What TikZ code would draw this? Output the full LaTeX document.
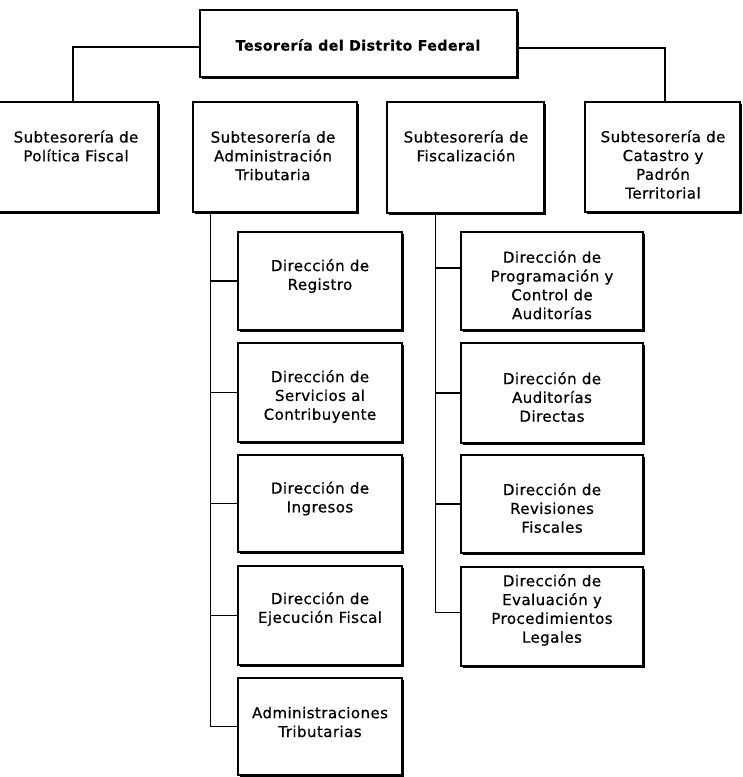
\documentclass[tikz,border=0pt]{standalone}
\usepackage{fontspec}
\setmainfont{DejaVu Sans}[LetterSpace=3, FakeBold=0.6]
\usetikzlibrary{shadows}
\begin{document}
\begin{tikzpicture}[x=1pt,y=-1pt,
  box/.style={draw=black, line width=1.5pt, fill=white, rectangle, inner sep=0pt,
    drop shadow={shadow xshift=1.7pt, shadow yshift=-1.7pt, fill=black, opacity=1}},
  lbl/.style={align=center, inner sep=0pt, font=\fontsize{15}{18.8}\selectfont},
  conn/.style={draw=black, line width=1.1pt}]
\useasboundingbox (0,0) rectangle (743,777);
\clip (0,0) rectangle (743,777);
% top
\node[box, minimum width=317pt, minimum height=67pt] (top) at (358.5,43.5) {};
\node[lbl, font=\fontsize{14.2}{18.8}\selectfont\bfseries] (top-t) at (358,45) {Tesorería del Distrito Federal};
% level 1
\node[box, minimum width=170pt, minimum height=110pt] (pol) at (73,157) {};
\node[lbl] (pol-t) at (76,146) {Subtesorería de\\Política Fiscal};
\node[box, minimum width=164pt, minimum height=110pt] (adm) at (275,157) {};
\node[lbl] (adm-t) at (273,155.5) {Subtesorería de\\Administración\\Tributaria};
\node[box, minimum width=157pt, minimum height=111pt] (fis) at (465.5,157.5) {};
\node[lbl] (fis-t) at (466,146) {Subtesorería de\\Fiscalización};
\node[box, minimum width=155pt, minimum height=110pt] (cat) at (662.5,157) {};
\node[lbl] (cat-t) at (663,164.5) {Subtesorería de\\Catastro y\\Padrón\\Territorial};
% admin children
\node[box, minimum width=164pt, minimum height=98pt] (a1) at (320,281) {};
\node[lbl] (a1-t) at (320,276) {Dirección de\\Registro};
\node[box, minimum width=164pt, minimum height=99pt] (a2) at (320,392.5) {};
\node[lbl] (a2-t) at (320,396.5) {Dirección de\\Servicios al\\Contribuyente};
\node[box, minimum width=164pt, minimum height=97pt] (a3) at (320,503.5) {};
\node[lbl] (a3-t) at (320,498.5) {Dirección de\\Ingresos};
\node[box, minimum width=164pt, minimum height=99pt] (a4) at (320,615.5) {};
\node[lbl] (a4-t) at (320,609) {Dirección de\\Ejecución Fiscal};
\node[box, minimum width=164pt, minimum height=97pt] (a5) at (320,726.5) {};
\node[lbl] (a5-t) at (320,722) {Administraciones\\Tributarias};
% fiscal children
\node[box, minimum width=182pt, minimum height=98pt] (f1) at (552,281) {};
\node[lbl] (f1-t) at (552,285) {Dirección de\\Programación y\\Control de\\Auditorías};
\node[box, minimum width=182pt, minimum height=100pt] (f2) at (552,393) {};
\node[lbl] (f2-t) at (552,397) {Dirección de\\Auditorías\\Directas};
\node[box, minimum width=182pt, minimum height=98pt] (f3) at (552,504) {};
\node[lbl] (f3-t) at (552,508) {Dirección de\\Revisiones\\Fiscales};
\node[box, minimum width=182pt, minimum height=99pt] (f4) at (552,616.5) {};
\node[lbl] (f4-t) at (552,610) {Dirección de\\Evaluación y\\Procedimientos\\Legales};
% connectors top
\draw[conn] ([yshift=-3.5pt]top.west) -| (pol.north);
\draw[conn] ([yshift=-4.5pt]top.east) -| ([xshift=2.5pt]cat.north);
% admin bus
\coordinate (abus) at ([xshift=18pt]adm.south west);
\draw[conn] (abus) |- (a5.west);
\foreach \n in {a1,a2,a3,a4} {\draw[conn] (abus |- \n.west) -- (\n.west);}
% fiscal bus
\coordinate (fbus) at ([xshift=49pt]fis.south west);
\coordinate (f1c) at ([yshift=13pt]f1.west);
\coordinate (f4c) at ([yshift=4pt]f4.west);
\draw[conn] (fbus) |- (f4c);
\draw[conn] (fbus |- f1c) -- (f1c);
\draw[conn] (fbus |- f2.west) -- (f2.west);
\draw[conn] (fbus |- f3.west) -- (f3.west);
\end{tikzpicture}
\end{document}
